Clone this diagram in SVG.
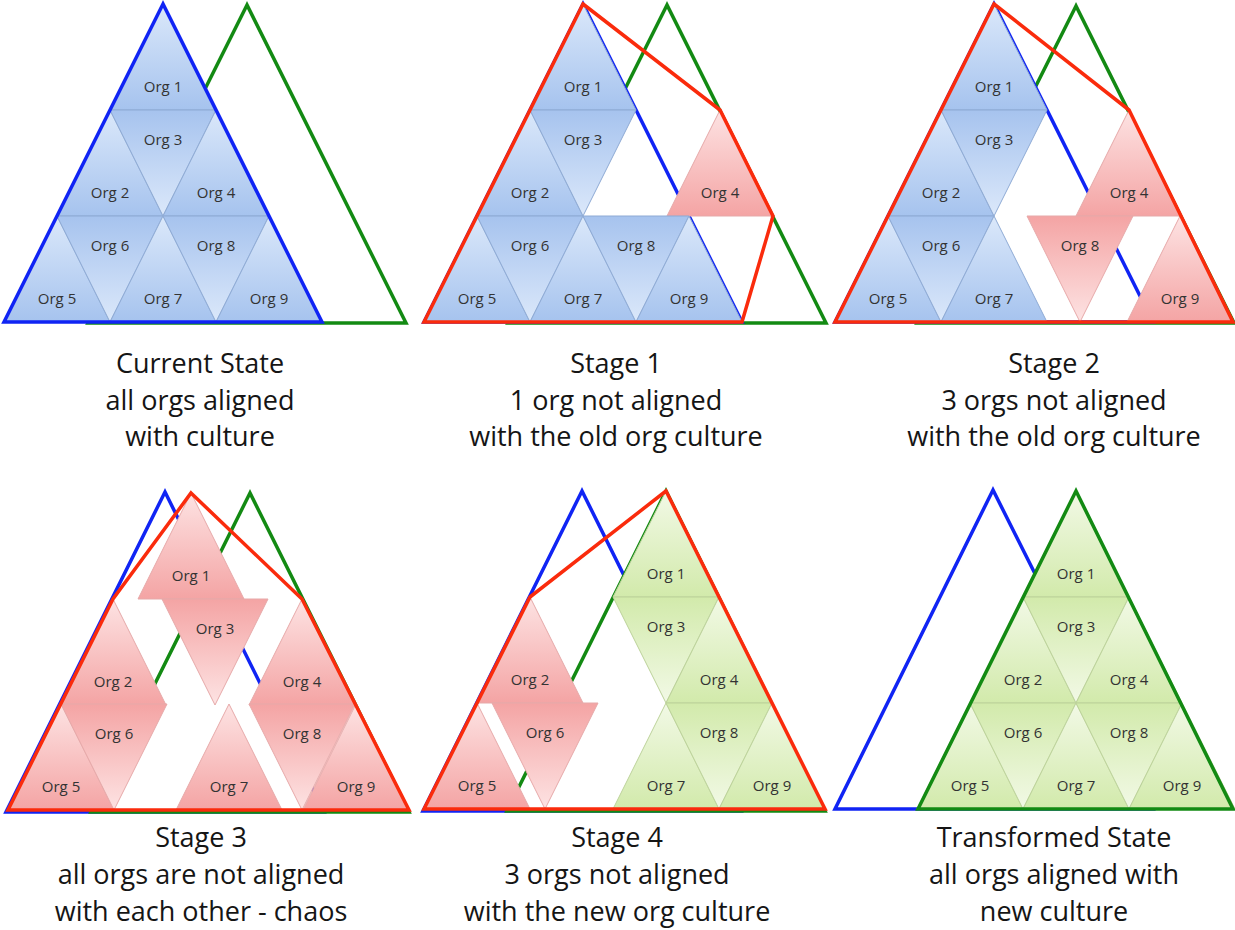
<svg xmlns="http://www.w3.org/2000/svg" xmlns:xlink="http://www.w3.org/1999/xlink" width="1235" height="930" viewBox="0 0 1235 930">
  <style>
    .bu{fill:url(#gbu);stroke:#8eaad4;stroke-width:1}
    .bd{fill:url(#gbd);stroke:#8eaad4;stroke-width:1}
    .pu{fill:url(#gpu);stroke:#e6a9a9;stroke-width:1}
    .pd{fill:url(#gpd);stroke:#e6a9a9;stroke-width:1}
    .gu{fill:url(#ggu);stroke:#bcd29a;stroke-width:1}
    .gd{fill:url(#ggd);stroke:#bcd29a;stroke-width:1}
    .lbl{font-family:"Open Sans","Liberation Sans",sans-serif;font-size:15px;fill:#333;text-anchor:middle}
    .cap{font-family:"Open Sans","Liberation Sans",sans-serif;font-size:27px;fill:#151515;text-anchor:middle}
    .ob{fill:none;stroke:#1024f4;stroke-width:3.5;stroke-linejoin:miter}
    .og{fill:none;stroke:#138a13;stroke-width:3.5;stroke-linejoin:miter}
    .or{fill:none;stroke:#fa2b0c;stroke-width:3.5;stroke-linejoin:miter}
  </style>
  <defs>
    <linearGradient id="gbu" x1="0" y1="0" x2="0" y2="1"><stop offset="0" stop-color="#dbe8fa"/><stop offset="1" stop-color="#a6c3ee"/></linearGradient>
    <linearGradient id="gbd" x1="0" y1="0" x2="0" y2="1"><stop offset="0" stop-color="#a6c3ee"/><stop offset="1" stop-color="#dbe8fa"/></linearGradient>
    <linearGradient id="gpu" x1="0" y1="0" x2="0" y2="1"><stop offset="0" stop-color="#fde3e3"/><stop offset="1" stop-color="#f4a4a4"/></linearGradient>
    <linearGradient id="gpd" x1="0" y1="0" x2="0" y2="1"><stop offset="0" stop-color="#f4a4a4"/><stop offset="1" stop-color="#fde3e3"/></linearGradient>
    <linearGradient id="ggu" x1="0" y1="0" x2="0" y2="1"><stop offset="0" stop-color="#f2f9e6"/><stop offset="1" stop-color="#d2eaab"/></linearGradient>
    <linearGradient id="ggd" x1="0" y1="0" x2="0" y2="1"><stop offset="0" stop-color="#d2eaab"/><stop offset="1" stop-color="#f2f9e6"/></linearGradient>
    <!-- unit org tiles: apex / top-centre at the origin -->
    <polygon id="up" points="0,0 -53,106 53,106"/>
    <polygon id="dn" points="-53,0 53,0 0,106"/>
  </defs>

  <!-- ===== Current State ===== -->
  <g id="current">
    <g id="current-outline-green"><polygon class="og" points="247,5 88,323 406,323"/></g>
    <g id="current-org1" transform="translate(163,4)"><use href="#up" class="bu"/><text class="lbl" y="88">Org 1</text></g>
    <g id="current-org2" transform="translate(110,110)"><use href="#up" class="bu"/><text class="lbl" y="88">Org 2</text></g>
    <g id="current-org3" transform="translate(163,110)"><use href="#dn" class="bd"/><text class="lbl" y="35">Org 3</text></g>
    <g id="current-org4" transform="translate(216,110)"><use href="#up" class="bu"/><text class="lbl" y="88">Org 4</text></g>
    <g id="current-org5" transform="translate(57,216)"><use href="#up" class="bu"/><text class="lbl" y="88">Org 5</text></g>
    <g id="current-org6" transform="translate(110,216)"><use href="#dn" class="bd"/><text class="lbl" y="35">Org 6</text></g>
    <g id="current-org7" transform="translate(163,216)"><use href="#up" class="bu"/><text class="lbl" y="88">Org 7</text></g>
    <g id="current-org8" transform="translate(216,216)"><use href="#dn" class="bd"/><text class="lbl" y="35">Org 8</text></g>
    <g id="current-org9" transform="translate(269,216)"><use href="#up" class="bu"/><text class="lbl" y="88">Org 9</text></g>
    <g id="current-outline-blue"><polygon class="ob" points="163,4 4,322 322,322"/></g>
    <g id="current-caption">
      <text class="cap" x="200" y="373">Current State</text>
      <text class="cap" x="200" y="410">all orgs aligned</text>
      <text class="cap" x="200" y="446">with culture</text>
    </g>
  </g>

  <!-- ===== Stage 1 ===== -->
  <g id="stage1">
    <g id="stage1-outlines-back">
      <polygon class="og" points="667,5 508,323 826,323"/>
      <polygon class="ob" points="583,4 424,322 742,322"/>
    </g>
    <g id="stage1-org1" transform="translate(583,4)"><use href="#up" class="bu"/><text class="lbl" y="88">Org 1</text></g>
    <g id="stage1-org2" transform="translate(530,110)"><use href="#up" class="bu"/><text class="lbl" y="88">Org 2</text></g>
    <g id="stage1-org3" transform="translate(583,110)"><use href="#dn" class="bd"/><text class="lbl" y="35">Org 3</text></g>
    <g id="stage1-org4" transform="translate(720,110)"><use href="#up" class="pu"/><text class="lbl" y="88">Org 4</text></g>
    <g id="stage1-org5" transform="translate(477,216)"><use href="#up" class="bu"/><text class="lbl" y="88">Org 5</text></g>
    <g id="stage1-org6" transform="translate(530,216)"><use href="#dn" class="bd"/><text class="lbl" y="35">Org 6</text></g>
    <g id="stage1-org7" transform="translate(583,216)"><use href="#up" class="bu"/><text class="lbl" y="88">Org 7</text></g>
    <g id="stage1-org8" transform="translate(636,216)"><use href="#dn" class="bd"/><text class="lbl" y="35">Org 8</text></g>
    <g id="stage1-org9" transform="translate(689,216)"><use href="#up" class="bu"/><text class="lbl" y="88">Org 9</text></g>
    <g id="stage1-outline-red"><polygon class="or" points="583,4 720,110 773,216 742,322 424,322"/></g>
    <g id="stage1-caption">
      <text class="cap" x="616" y="373">Stage 1</text>
      <text class="cap" x="616" y="410">1 org not aligned</text>
      <text class="cap" x="616" y="446">with the old org culture</text>
    </g>
  </g>

  <!-- ===== Stage 2 ===== -->
  <g id="stage2">
    <g id="stage2-outlines-back">
      <polygon class="og" points="1076,6 917,323 1234,323"/>
      <polygon class="ob" points="994,4 835,322 1153,322"/>
    </g>
    <g id="stage2-org1" transform="translate(994,4)"><use href="#up" class="bu"/><text class="lbl" y="88">Org 1</text></g>
    <g id="stage2-org2" transform="translate(941,110)"><use href="#up" class="bu"/><text class="lbl" y="88">Org 2</text></g>
    <g id="stage2-org3" transform="translate(994,110)"><use href="#dn" class="bd"/><text class="lbl" y="35">Org 3</text></g>
    <g id="stage2-org4" transform="translate(1129,110)"><use href="#up" class="pu"/><text class="lbl" y="88">Org 4</text></g>
    <g id="stage2-org5" transform="translate(888,216)"><use href="#up" class="bu"/><text class="lbl" y="88">Org 5</text></g>
    <g id="stage2-org6" transform="translate(941,216)"><use href="#dn" class="bd"/><text class="lbl" y="35">Org 6</text></g>
    <g id="stage2-org7" transform="translate(994,216)"><use href="#up" class="bu"/><text class="lbl" y="88">Org 7</text></g>
    <g id="stage2-org8" transform="translate(1080,216)"><use href="#dn" class="pd"/><text class="lbl" y="35">Org 8</text></g>
    <g id="stage2-org9" transform="translate(1180,216)"><use href="#up" class="pu"/><text class="lbl" y="88">Org 9</text></g>
    <g id="stage2-outline-red"><polygon class="or" points="994,4 1129,110 1233,322 835,322"/></g>
    <g id="stage2-caption">
      <text class="cap" x="1054" y="373">Stage 2</text>
      <text class="cap" x="1054" y="410">3 orgs not aligned</text>
      <text class="cap" x="1054" y="446">with the old org culture</text>
    </g>
  </g>

  <!-- ===== Stage 3 ===== -->
  <g id="stage3">
    <g id="stage3-outlines-back">
      <polygon class="ob" points="165,492 6,812 324,812"/>
      <polygon class="og" points="250,493 91,812 409,812"/>
    </g>
    <g id="stage3-org1" transform="translate(191,493)"><use href="#up" class="pu"/><text class="lbl" y="88">Org 1</text></g>
    <g id="stage3-org2" transform="translate(113,599)"><use href="#up" class="pu"/><text class="lbl" y="88">Org 2</text></g>
    <g id="stage3-org3" transform="translate(215,599)"><use href="#dn" class="pd"/><text class="lbl" y="35">Org 3</text></g>
    <g id="stage3-org4" transform="translate(302,599)"><use href="#up" class="pu"/><text class="lbl" y="88">Org 4</text></g>
    <g id="stage3-org5" transform="translate(61,704)"><use href="#up" class="pu"/><text class="lbl" y="88">Org 5</text></g>
    <g id="stage3-org6" transform="translate(114,704)"><use href="#dn" class="pd"/><text class="lbl" y="35">Org 6</text></g>
    <g id="stage3-org7" transform="translate(229,704)"><use href="#up" class="pu"/><text class="lbl" y="88">Org 7</text></g>
    <g id="stage3-org8" transform="translate(302,704)"><use href="#dn" class="pd"/><text class="lbl" y="35">Org 8</text></g>
    <g id="stage3-org9" transform="translate(356,704)"><use href="#up" class="pu"/><text class="lbl" y="88">Org 9</text></g>
    <g id="stage3-outline-red"><polygon class="or" points="191,493 302,599 409,810 8,810 113,599"/></g>
    <g id="stage3-caption">
      <text class="cap" x="201" y="847">Stage 3</text>
      <text class="cap" x="201" y="884">all orgs are not aligned</text>
      <text class="cap" x="201" y="921">with each other - chaos</text>
    </g>
  </g>

  <!-- ===== Stage 4 ===== -->
  <g id="stage4">
    <g id="stage4-outlines-back">
      <polygon class="ob" points="582,491 423,811 741,811"/>
      <polygon class="og" points="666,491 507,811 825,811"/>
    </g>
    <g id="stage4-org1" transform="translate(666,491)"><use href="#up" class="gu"/><text class="lbl" y="88">Org 1</text></g>
    <g id="stage4-org3" transform="translate(666,597)"><use href="#dn" class="gd"/><text class="lbl" y="35">Org 3</text></g>
    <g id="stage4-org4" transform="translate(719,597)"><use href="#up" class="gu"/><text class="lbl" y="88">Org 4</text></g>
    <g id="stage4-org7" transform="translate(666,703)"><use href="#up" class="gu"/><text class="lbl" y="88">Org 7</text></g>
    <g id="stage4-org8" transform="translate(719,703)"><use href="#dn" class="gd"/><text class="lbl" y="35">Org 8</text></g>
    <g id="stage4-org9" transform="translate(772,703)"><use href="#up" class="gu"/><text class="lbl" y="88">Org 9</text></g>
    <g id="stage4-org2" transform="translate(530,597)"><use href="#up" class="pu"/><text class="lbl" y="88">Org 2</text></g>
    <g id="stage4-org5" transform="translate(477,703)"><use href="#up" class="pu"/><text class="lbl" y="88">Org 5</text></g>
    <g id="stage4-org6" transform="translate(545,703)"><use href="#dn" class="pd"/><text class="lbl" y="35">Org 6</text></g>
    <g id="stage4-outline-red"><polygon class="or" points="666,491 530,597 424,809 825,809"/></g>
    <g id="stage4-caption">
      <text class="cap" x="617" y="847">Stage 4</text>
      <text class="cap" x="617" y="884">3 orgs not aligned</text>
      <text class="cap" x="617" y="921">with the new org culture</text>
    </g>
  </g>

  <!-- ===== Transformed State ===== -->
  <g id="transformed">
    <g id="transformed-outline-blue"><polygon class="ob" points="993,490 835,809 1153,809"/></g>
    <g id="transformed-org1" transform="translate(1076,491)"><use href="#up" class="gu"/><text class="lbl" y="88">Org 1</text></g>
    <g id="transformed-org2" transform="translate(1023,597)"><use href="#up" class="gu"/><text class="lbl" y="88">Org 2</text></g>
    <g id="transformed-org3" transform="translate(1076,597)"><use href="#dn" class="gd"/><text class="lbl" y="35">Org 3</text></g>
    <g id="transformed-org4" transform="translate(1129,597)"><use href="#up" class="gu"/><text class="lbl" y="88">Org 4</text></g>
    <g id="transformed-org5" transform="translate(970,703)"><use href="#up" class="gu"/><text class="lbl" y="88">Org 5</text></g>
    <g id="transformed-org6" transform="translate(1023,703)"><use href="#dn" class="gd"/><text class="lbl" y="35">Org 6</text></g>
    <g id="transformed-org7" transform="translate(1076,703)"><use href="#up" class="gu"/><text class="lbl" y="88">Org 7</text></g>
    <g id="transformed-org8" transform="translate(1129,703)"><use href="#dn" class="gd"/><text class="lbl" y="35">Org 8</text></g>
    <g id="transformed-org9" transform="translate(1182,703)"><use href="#up" class="gu"/><text class="lbl" y="88">Org 9</text></g>
    <g id="transformed-outline-green"><polygon class="og" points="1076,491 918,809 1233,809"/></g>
    <g id="transformed-caption">
      <text class="cap" x="1054" y="847">Transformed State</text>
      <text class="cap" x="1054" y="884">all orgs aligned with</text>
      <text class="cap" x="1054" y="921">new culture</text>
    </g>
  </g>
</svg>
